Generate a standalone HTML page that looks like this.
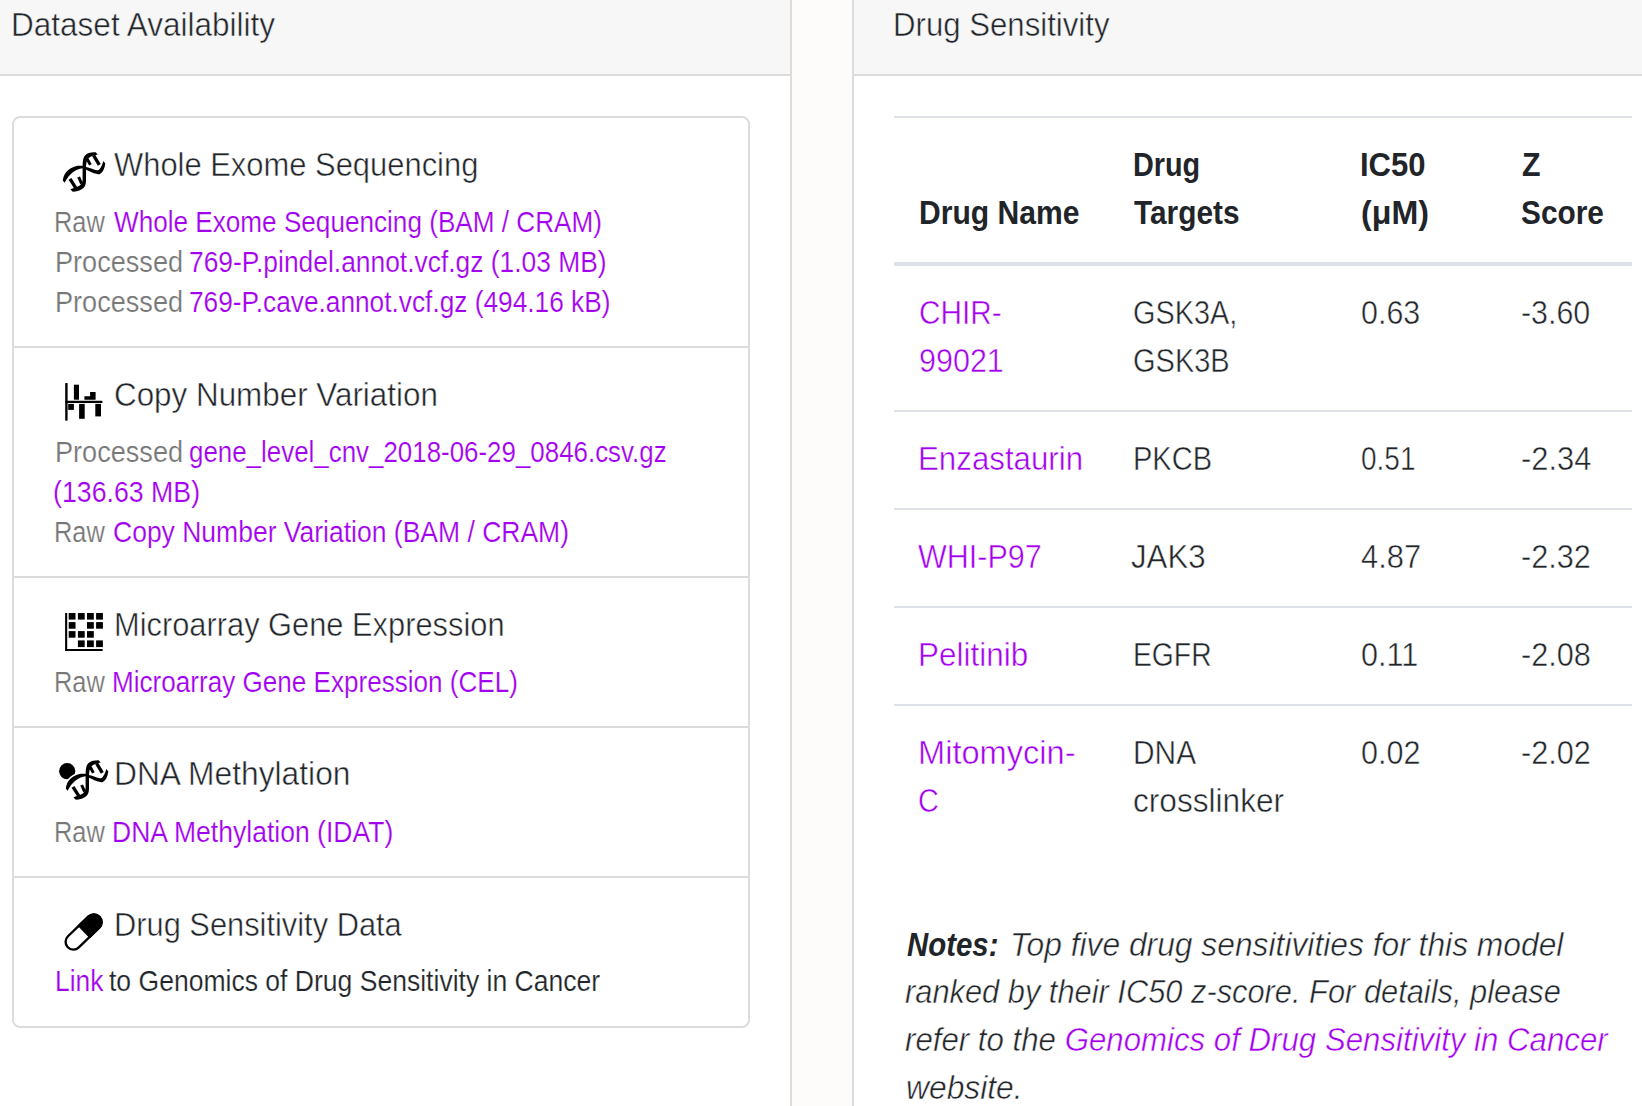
<!DOCTYPE html>
<html>
<head>
<meta charset="utf-8">
<title>Cell Model Passport</title>
<style>
html,body{margin:0;padding:0}
body{width:1642px;height:1106px;overflow:hidden;position:relative;background:#fdfcfb;font-family:"Liberation Sans",sans-serif;color:#212529}
.panel{position:absolute;top:-30px;height:1200px;background:#fff;border:2px solid #dcdcdc;border-radius:8px;box-sizing:border-box}
.hdr{position:absolute;left:0;right:0;top:0;height:102px;background:#f7f7f7;border-bottom:2px solid #dcdcdc}
.t,.s,.b,.i{position:absolute;white-space:nowrap;transform-origin:0 0;-webkit-text-stroke:0.5px #fff}
#h1,#h2{-webkit-text-stroke-color:#f7f7f7}
.b,.i b{-webkit-text-stroke:0}
.s{-webkit-text-stroke-width:0.2px}

.t,.b,.i{font-size:33px;line-height:33px}
.s{font-size:29px;line-height:29px}
.b{font-weight:700}
.i{font-style:italic}
.m{color:#777}
a{color:#a300ef;text-decoration:none}
.card{position:absolute;left:12px;top:116px;width:738px;height:912px;box-sizing:border-box;border:2px solid #dcdcdc;border-radius:8px;background:#fff}
.sep{position:absolute;left:14px;width:734px;height:2px;background:#dcdcdc}
.hl{position:absolute;left:894px;width:738px;background:#dee2e6}
svg{position:absolute;overflow:visible}

</style>
</head>
<body>
<div class="panel" style="left:-30px;width:822px"><div class="hdr"></div></div>
<div class="card"></div>
<div class="sep" style="top:346px"></div>
<div class="sep" style="top:576px"></div>
<div class="sep" style="top:726px"></div>
<div class="sep" style="top:876px"></div>
<div class="panel" style="left:852px;width:900px"><div class="hdr"></div></div>
<div class="hl" style="top:116px;height:2px"></div>
<div class="hl" style="top:262px;height:4px"></div>
<div class="hl" style="top:410px;height:2px"></div>
<div class="hl" style="top:508px;height:2px"></div>
<div class="hl" style="top:606px;height:2px"></div>
<div class="hl" style="top:704px;height:2px"></div>
<svg style="left:60px;top:148px" width="48" height="48" viewBox="0 0 48 48">
<path d="M2.8,32.6 C3.5,26 8,20 16.5,18 C20,17.4 23.5,17.7 26,18.9 C30,19.8 34,21.6 37,22.3 C39.5,22.6 41.5,19 43.4,13 L45.3,15.5 C44.6,20.5 43,24 40,26 C37,26.8 33,25 29,23.1 C27,22.2 25,21.3 22.5,20.3 C16,21 9.5,25.5 4.6,34.7 Z" fill="#000"/>
<path d="M37.8,6.5 L35.6,4.3 C30,4.3 25.5,5.5 23.8,9.5 C22.7,12 22.6,16 22.6,20 L22.6,32 C22.4,35.5 20.5,38.2 15,39.6 L10.5,41.3 L12.3,43.6 C17,43.9 21,42.6 24,39.6 C25.7,37 26,35 26,32 L26,20 C26,16 26.5,12.5 28.5,10.2 C30.5,8.3 33,7.3 37.8,6.5 Z" fill="#000"/>
<g stroke="#000" stroke-width="3" fill="none">
<path d="M27.2,11 L30.4,16.9"/><path d="M33.6,7.4 L39.3,16.9" stroke-width="3.3"/>
<path d="M10,30.8 L16.2,40.6" stroke-width="3.3"/><path d="M18.6,29 L21.6,35.6"/>
</g>
</svg>
<svg style="left:0;top:0" width="1" height="1">
<g fill="#000">
<rect x="65.2" y="383" width="2.4" height="37.7" rx="0.6"/>
<rect x="65.2" y="400.8" width="37.4" height="2.1" rx="1"/>
<rect x="73.9" y="384.7" width="5.1" height="15"/>
<path d="M84.4,396.3 H90.1 V392 H95.6 V399.7 H84.4 Z"/>
<rect x="68.2" y="403.9" width="5.7" height="6"/>
<rect x="79.1" y="403.9" width="5.6" height="14.9"/>
<rect x="95.3" y="403.9" width="5.7" height="12.5"/>
</g>
<g fill="#000">
<rect x="65.1" y="613" width="2.1" height="38"/>
<rect x="65.1" y="649.1" width="37.8" height="1.9" rx="0.9"/>
<rect x="68.7" y="613" width="6.8" height="6.6"/><rect x="77.9" y="613" width="6.8" height="6.6"/><rect x="87" y="613" width="6.8" height="6.6"/><rect x="96.1" y="613" width="6.8" height="6.6"/>
<rect x="68.7" y="622.1" width="6.8" height="6.6"/><rect x="87" y="622.1" width="6.8" height="6.6"/><rect x="96.1" y="622.1" width="6.8" height="6.6"/>
<rect x="68.7" y="631.1" width="6.8" height="6.6"/><rect x="77.9" y="631.1" width="6.8" height="6.6"/><rect x="87" y="631.1" width="6.8" height="6.6"/>
<rect x="77.9" y="640.4" width="6.8" height="6.7"/><rect x="87" y="640.4" width="6.8" height="6.7"/><rect x="96.1" y="640.4" width="6.8" height="6.7"/>
</g>
<g transform="translate(83.6,932) rotate(-44)">
<rect x="-22" y="-7.8" width="44" height="15.6" rx="7.8" fill="#fff" stroke="#000" stroke-width="2.4"/>
<path d="M0,-9 H14.2 A9,9 0 0 1 14.2,9 H0 Z" fill="#000"/>
</g>
</svg>
<svg style="left:62.9px;top:755.7px" width="48" height="48" viewBox="0 0 48 48">
<circle cx="4.2" cy="15.2" r="8.1" fill="#000"/>
<path d="M2.8,32.6 C3.5,26 8,20 16.5,18 C20,17.4 23.5,17.7 26,18.9 L22.5,20.3 C16,21 9.5,25.5 4.6,34.7 Z" fill="none" stroke="#fff" stroke-width="3.2"/>
<path d="M2.8,32.6 C3.5,26 8,20 16.5,18 C20,17.4 23.5,17.7 26,18.9 C30,19.8 34,21.6 37,22.3 C39.5,22.6 41.5,19 43.4,13 L45.3,15.5 C44.6,20.5 43,24 40,26 C37,26.8 33,25 29,23.1 C27,22.2 25,21.3 22.5,20.3 C16,21 9.5,25.5 4.6,34.7 Z" fill="#000"/>
<path d="M37.8,6.5 L35.6,4.3 C30,4.3 25.5,5.5 23.8,9.5 C22.7,12 22.6,16 22.6,20 L22.6,32 C22.4,35.5 20.5,38.2 15,39.6 L10.5,41.3 L12.3,43.6 C17,43.9 21,42.6 24,39.6 C25.7,37 26,35 26,32 L26,20 C26,16 26.5,12.5 28.5,10.2 C30.5,8.3 33,7.3 37.8,6.5 Z" fill="#000"/>
<g stroke="#000" stroke-width="3" fill="none">
<path d="M27.2,11 L30.4,16.9"/><path d="M33.6,7.4 L39.3,16.9" stroke-width="3.3"/>
<path d="M10,30.8 L16.2,40.6" stroke-width="3.3"/><path d="M18.6,29 L21.6,35.6"/>
</g>
</svg>

<div id="h1" class="t" style="left:11.30px;top:8px;transform:scaleX(0.9554)">Dataset Availability</div>
<div id="h2" class="t" style="left:893.40px;top:8px;transform:scaleX(0.9446)">Drug Sensitivity</div>
<div id="t1" class="t" style="left:113.90px;top:148px;transform:scaleX(0.9369)">Whole Exome Sequencing</div>
<div id="l1a_p" class="s" style="left:53.75px;top:208px;transform:scaleX(0.8761)"><span class="m">Raw</span></div>
<div id="l1a" class="s" style="left:114.10px;top:208px;transform:scaleX(0.9010)"><a>Whole Exome Sequencing (BAM / CRAM)</a></div>
<div id="l1b_p" class="s" style="left:54.70px;top:248px;transform:scaleX(0.9346)"><span class="m">Processed</span></div>
<div id="l1b" class="s" style="left:189.20px;top:248px;transform:scaleX(0.9101)"><a>769-P.pindel.annot.vcf.gz (1.03 MB)</a></div>
<div id="l1c_p" class="s" style="left:54.70px;top:288px;transform:scaleX(0.9346)"><span class="m">Processed</span></div>
<div id="l1c" class="s" style="left:189.20px;top:288px;transform:scaleX(0.9058)"><a>769-P.cave.annot.vcf.gz (494.16 kB)</a></div>
<div id="t2" class="t" style="left:113.60px;top:378px;transform:scaleX(0.9510)">Copy Number Variation</div>
<div id="l2a_p" class="s" style="left:54.70px;top:438px;transform:scaleX(0.9346)"><span class="m">Processed</span></div>
<div id="l2a" class="s" style="left:189.20px;top:438px;transform:scaleX(0.8932)"><a>gene_level_cnv_2018-06-29_0846.csv.gz</a></div>
<div id="l2b" class="s" style="left:53.20px;top:478px;transform:scaleX(0.9218)"><a>(136.63 MB)</a></div>
<div id="l2c_p" class="s" style="left:53.75px;top:518px;transform:scaleX(0.8761)"><span class="m">Raw</span></div>
<div id="l2c" class="s" style="left:113.10px;top:518px;transform:scaleX(0.9138)"><a>Copy Number Variation (BAM / CRAM)</a></div>
<div id="t3" class="t" style="left:113.80px;top:608px;transform:scaleX(0.9339)">Microarray Gene Expression</div>
<div id="l3_p" class="s" style="left:53.75px;top:668px;transform:scaleX(0.8761)"><span class="m">Raw</span></div>
<div id="l3" class="s" style="left:112.10px;top:668px;transform:scaleX(0.8995)"><a>Microarray Gene Expression (CEL)</a></div>
<div id="t4" class="t" style="left:114.40px;top:757px;transform:scaleX(0.9621)">DNA Methylation</div>
<div id="l4_p" class="s" style="left:53.75px;top:818px;transform:scaleX(0.8761)"><span class="m">Raw</span></div>
<div id="l4" class="s" style="left:112.10px;top:818px;transform:scaleX(0.9154)"><a>DNA Methylation (IDAT)</a></div>
<div id="t5" class="t" style="left:114.40px;top:908px;transform:scaleX(0.9338)">Drug Sensitivity Data</div>
<div id="l5_p" class="s" style="left:54.60px;top:967px;transform:scaleX(0.9088)"><a>Link</a></div>
<div id="l5" class="s" style="left:109.30px;top:967px;transform:scaleX(0.9151)">to Genomics of Drug Sensitivity in Cancer</div>
<div id="th1" class="b" style="left:918.50px;top:196px;transform:scaleX(0.9110)">Drug Name</div>
<div id="th2a" class="b" style="left:1133.10px;top:148px;transform:scaleX(0.8720)">Drug</div>
<div id="th2b" class="b" style="left:1134.10px;top:196px;transform:scaleX(0.9036)">Targets</div>
<div id="th3a" class="b" style="left:1359.80px;top:148px;transform:scaleX(0.9406)">IC50</div>
<div id="th3b" class="b" style="left:1360.80px;top:196px;transform:scaleX(0.9750)">(μM)</div>
<div id="th4a" class="b" style="left:1522.40px;top:148px;transform:scaleX(0.9198)">Z</div>
<div id="th4b" class="b" style="left:1521.40px;top:196px;transform:scaleX(0.9034)">Score</div>
<div id="r1a" class="t" style="left:918.50px;top:296px;transform:scaleX(0.9015)"><a>CHIR-</a></div>
<div id="r1a2" class="t" style="left:918.50px;top:344px;transform:scaleX(0.9245)"><a>99021</a></div>
<div id="r1b" class="t" style="left:1133.10px;top:296px;transform:scaleX(0.8744)">GSK3A,</div>
<div id="r1b2" class="t" style="left:1133.10px;top:344px;transform:scaleX(0.8785)">GSK3B</div>
<div id="r1c" class="t" style="left:1360.80px;top:296px;transform:scaleX(0.9222)">0.63</div>
<div id="r1d" class="t" style="left:1521.40px;top:296px;transform:scaleX(0.9205)">-3.60</div>
<div id="r2a" class="t" style="left:917.80px;top:442px;transform:scaleX(0.9475)"><a>Enzastaurin</a></div>
<div id="r2b" class="t" style="left:1132.60px;top:442px;transform:scaleX(0.8801)">PKCB</div>
<div id="r2c" class="t" style="left:1360.80px;top:442px;transform:scaleX(0.8480)">0.51</div>
<div id="r2d" class="t" style="left:1521.40px;top:442px;transform:scaleX(0.9351)">-2.34</div>
<div id="r3a" class="t" style="left:917.80px;top:540px;transform:scaleX(0.9247)"><a>WHI-P97</a></div>
<div id="r3b" class="t" style="left:1131.40px;top:540px;transform:scaleX(0.9456)">JAK3</div>
<div id="r3c" class="t" style="left:1360.60px;top:540px;transform:scaleX(0.9360)">4.87</div>
<div id="r3d" class="t" style="left:1521.40px;top:540px;transform:scaleX(0.9284)">-2.32</div>
<div id="r4a" class="t" style="left:918.10px;top:638px;transform:scaleX(0.9533)"><a>Pelitinib</a></div>
<div id="r4b" class="t" style="left:1132.60px;top:638px;transform:scaleX(0.8572)">EGFR</div>
<div id="r4c" class="t" style="left:1360.80px;top:638px;transform:scaleX(0.9256)">0.11</div>
<div id="r4d" class="t" style="left:1521.40px;top:638px;transform:scaleX(0.9288)">-2.08</div>
<div id="r5a" class="t" style="left:918.10px;top:736px;transform:scaleX(0.9877)"><a>Mitomycin-</a></div>
<div id="r5a2" class="t" style="left:917.80px;top:784px;transform:scaleX(0.8754)"><a>C</a></div>
<div id="r5b" class="t" style="left:1132.70px;top:736px;transform:scaleX(0.9050)">DNA</div>
<div id="r5b2" class="t" style="left:1133.00px;top:784px;transform:scaleX(0.9577)">crosslinker</div>
<div id="r5c" class="t" style="left:1360.80px;top:736px;transform:scaleX(0.9259)">0.02</div>
<div id="r5d" class="t" style="left:1521.40px;top:736px;transform:scaleX(0.9284)">-2.02</div>
<div id="n1_p" class="i" style="left:906.90px;top:928px;transform:scaleX(0.8904)"><b>Notes:</b></div>
<div id="n1" class="i" style="left:1009.50px;top:928px;transform:scaleX(0.9629)">Top five drug sensitivities for this model</div>
<div id="n2" class="i" style="left:905.40px;top:975px;transform:scaleX(0.9336)">ranked by their IC50 z-score. For details, please</div>
<div id="n3" class="i" style="left:905.40px;top:1023px;transform:scaleX(0.9460)">refer to the <a>Genomics of Drug Sensitivity in Cancer</a></div>
<div id="n4" class="i" style="left:905.80px;top:1071px;transform:scaleX(0.9634)">website.</div>
</body>
</html>
